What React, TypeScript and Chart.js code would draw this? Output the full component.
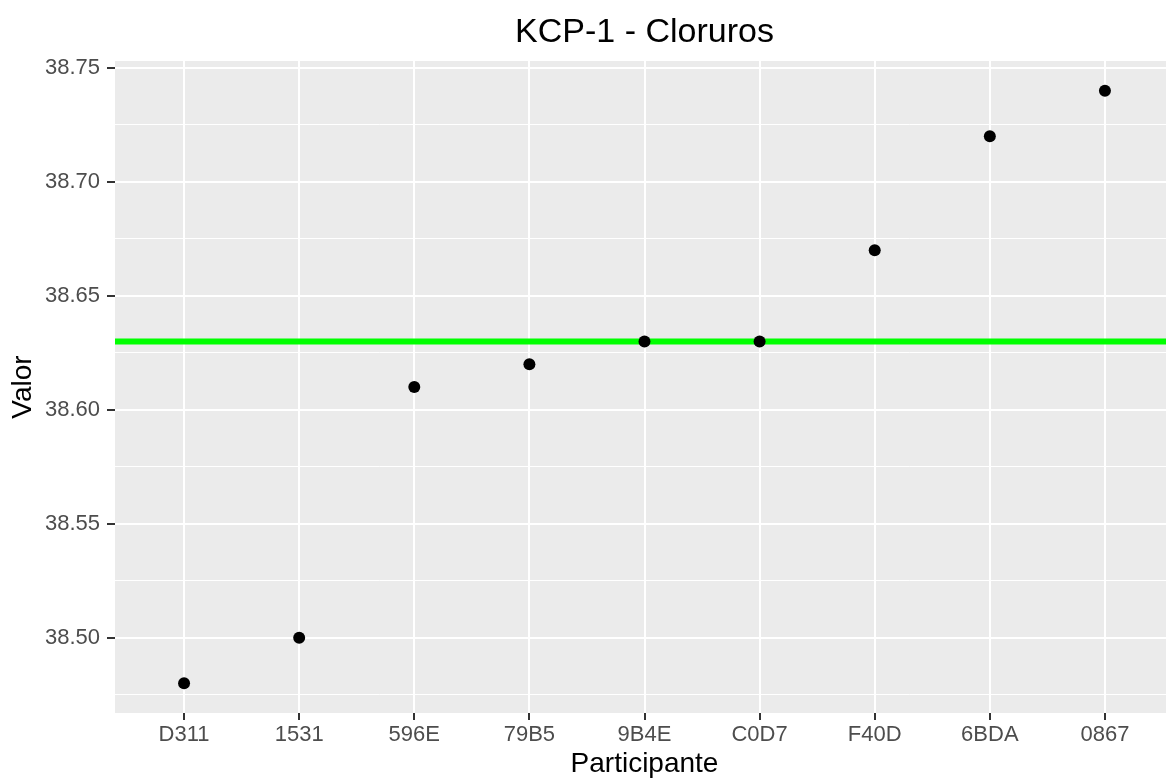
import React, { useEffect, useRef } from "react";
import { Chart, registerables } from "chart.js";

Chart.register(...registerables);

const TITLE = "KCP-1 - Cloruros";
const X_TITLE = "Participante";
const Y_TITLE = "Valor";

const participants = ["D311", "1531", "596E", "79B5", "9B4E", "C0D7", "F40D", "6BDA", "0867"];
const values = [38.48, 38.5, 38.61, 38.62, 38.63, 38.63, 38.67, 38.72, 38.74];
const referenceValue = 38.63;

const yMajorTicks = [38.5, 38.55, 38.6, 38.65, 38.7, 38.75];
const yMinorTicks = [38.475, 38.525, 38.575, 38.625, 38.675, 38.725];

const FONT = "'Liberation Sans', Arial, Helvetica, sans-serif";

const isMajor = (v: number | undefined) =>
  v !== undefined && yMajorTicks.some((m) => Math.abs(m - v) < 1e-9);

const panelBg = {
  id: "panelBg",
  beforeDraw(chart: any) {
    const { ctx, chartArea } = chart;
    const { left, top, right, bottom } = chartArea;
    ctx.save();
    ctx.fillStyle = "#EBEBEB";
    ctx.fillRect(left, top, right - left, bottom - top);
    ctx.restore();
  },
};

const ggTitle = {
  id: "ggTitle",
  afterDraw(chart: any) {
    const { ctx, chartArea } = chart;
    ctx.save();
    ctx.fillStyle = "#000000";
    ctx.font = `34px ${FONT}`;
    ctx.textAlign = "center";
    ctx.textBaseline = "alphabetic";
    ctx.fillText(TITLE, (chartArea.left + chartArea.right) / 2, 42);
    ctx.restore();
  },
};

export default function App() {
  const canvasRef = useRef<HTMLCanvasElement | null>(null);

  useEffect(() => {
    if (!canvasRef.current) return;
    const n = participants.length;
    const yRange = Math.max(...values) - Math.min(...values);
    const yMin = Math.min(...values) - 0.05 * yRange;
    const yMax = Math.max(...values) + 0.05 * yRange;
    const xMin = -0.6;
    const xMax = n - 1 + 0.6;

    const chart = new Chart(canvasRef.current, {
      type: "scatter",
      data: {
        datasets: [
          {
            label: Y_TITLE,
            data: participants.map((_, i) => ({ x: i, y: values[i] })),
            backgroundColor: "#000000",
            borderColor: "#000000",
            borderWidth: 0,
            pointRadius: 6,
            order: 0,
          },
          {
            label: "Referencia",
            data: [
              { x: xMin, y: referenceValue },
              { x: xMax, y: referenceValue },
            ],
            showLine: true,
            borderColor: "#00FF00",
            backgroundColor: "#00FF00",
            borderWidth: 6,
            pointRadius: 0,
            order: 1,
          } as any,
        ],
      },
      options: {
        animation: false,
        responsive: false,
        devicePixelRatio: 1,
        events: [],
        layout: { padding: { top: 61, right: 4, bottom: 0, left: 0 } },
        plugins: {
          legend: { display: false },
          tooltip: { enabled: false },
          title: { display: false },
        },
        scales: {
          x: {
            type: "linear",
            min: xMin,
            max: xMax,
            afterBuildTicks: (s: any) => {
              s.ticks = participants.map((_, i) => ({ value: i }));
            },
            afterFit: (s: any) => {
              s.height = 65;
            },
            ticks: {
              autoSkip: false,
              maxRotation: 0,
              minRotation: 0,
              padding: 2,
              color: "#4D4D4D",
              font: { family: FONT, size: 22 },
              callback: (v: any) => participants[Math.round(Number(v))] ?? "",
            },
            grid: {
              color: "#FFFFFF",
              lineWidth: 2,
              tickColor: "#333333",
              tickWidth: 2,
              tickLength: 7,
            },
            border: { display: false },
            title: {
              display: true,
              text: X_TITLE,
              color: "#000000",
              font: { family: FONT, size: 28, lineHeight: 1 },
              padding: { top: 0, bottom: 0 },
            },
          },
          y: {
            type: "linear",
            min: yMin,
            max: yMax,
            afterBuildTicks: (s: any) => {
              s.ticks = [...yMajorTicks, ...yMinorTicks]
                .sort((a, b) => a - b)
                .map((v) => ({ value: v }));
            },
            afterFit: (s: any) => {
              s.width = 115;
            },
            ticks: {
              autoSkip: false,
              padding: 7,
              color: "#4D4D4D",
              font: { family: FONT, size: 22 },
              callback: (v: any) => (isMajor(Number(v)) ? Number(v).toFixed(2) : ""),
            },
            grid: {
              color: "#FFFFFF",
              lineWidth: (ctx: any) => (isMajor(ctx.tick?.value) ? 2 : 1),
              tickColor: (ctx: any) => (isMajor(ctx.tick?.value) ? "#333333" : "rgba(0,0,0,0)"),
              tickWidth: 2,
              tickLength: 8,
            },
            border: { display: false },
            title: {
              display: true,
              text: Y_TITLE,
              color: "#000000",
              font: { family: FONT, size: 28, lineHeight: 1 },
              padding: { top: 9, bottom: 0 },
            },
          },
        },
      },
      plugins: [panelBg, ggTitle],
    });

    return () => chart.destroy();
  }, []);

  return (
    <div
      style={{
        position: "fixed",
        left: 0,
        top: 0,
        width: 1166,
        height: 778,
        overflow: "hidden",
        background: "#FFFFFF",
      }}
    >
      <canvas
        ref={canvasRef}
        width={1180}
        height={778}
        style={{ display: "block", width: 1180, height: 778 }}
      />
    </div>
  );
}
